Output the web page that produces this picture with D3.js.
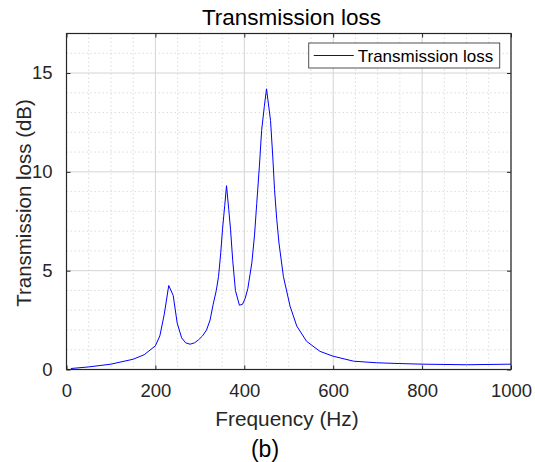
<!DOCTYPE html>
<html lang="en">
<head>
  <meta charset="UTF-8">
  <title>Transmission loss</title>
  <style>
    body { margin: 0; background: #fff; font-family: "Liberation Sans", Arial, sans-serif; }
    .grid-major line { stroke: #d4d4d4; stroke-width: 1; }
    .grid-minor line { stroke: #dcdcdc; stroke-width: 1; stroke-dasharray: 1.5,2.5; }
    .axis path { display: none; }
    .axis line { stroke: #262626; }
    .axis text { font-size: 18.5px; fill: #262626; font-family: "Liberation Sans", Arial, sans-serif; }
  </style>
  <script src="https://d3js.org/d3.v7.min.js"></script>
</head>
<body>
<svg id="chart"></svg>
<script>
  // Data
  const freq = [10, 50, 100, 150, 175, 200, 210, 220, 230, 240, 249, 259, 268, 278, 288, 297, 306, 315, 323, 330, 337, 342, 347, 351, 356, 360, 365, 369, 374, 380, 389, 396, 402, 408, 417, 423, 428, 434, 439, 445, 450, 459, 464, 468, 473, 478, 488, 503, 518, 540, 570, 600, 646, 698, 750, 800, 900, 1000];
  const tl   = [0.05, 0.13, 0.27, 0.52, 0.75, 1.2, 1.7, 2.8, 4.25, 3.75, 2.35, 1.6, 1.35, 1.28, 1.35, 1.5, 1.7, 2.0, 2.5, 3.3, 4.0, 4.7, 5.9, 7.1, 8.3, 9.3, 8.1, 7.1, 5.5, 4.0, 3.25, 3.3, 3.6, 4.1, 5.4, 6.8, 8.4, 10.3, 12.1, 13.3, 14.2, 12.6, 10.8, 9.1, 7.6, 6.4, 4.7, 3.2, 2.2, 1.43, 0.92, 0.67, 0.42, 0.34, 0.3, 0.27, 0.24, 0.27];
  const xTicks = [0, 200, 400, 600, 800, 1000];
  const yTicks = [0, 5, 10, 15];
  const xMinor = d3.range(0, 1001, 50);
  const yMinor = d3.range(0, 17.01, 1);

  const W = 535, H = 462;
  const margin = {top: 33.5, right: 24, bottom: 92.5, left: 66.5};
  const width = W - margin.left - margin.right;
  const height = H - margin.top - margin.bottom;

  const svg = d3.select("#chart").attr("width", W).attr("height", H);
  const g = svg.append("g").attr("transform", `translate(${margin.left},${margin.top})`);

  const x = d3.scaleLinear().domain([0, 1000]).range([0, width]);
  const y = d3.scaleLinear().domain([0, 17]).range([height, 0]);

  // minor grid
  g.append("g").attr("class", "grid-minor")
    .selectAll("line").data(xMinor.filter(d => d % 200 !== 0)).join("line")
    .attr("x1", d => x(d)).attr("x2", d => x(d)).attr("y1", 0).attr("y2", height);
  g.append("g").attr("class", "grid-minor")
    .selectAll("line").data(yMinor.filter(d => d % 5 !== 0)).join("line")
    .attr("y1", d => y(d)).attr("y2", d => y(d)).attr("x1", 0).attr("x2", width);

  // major grid
  g.append("g").attr("class", "grid-major")
    .selectAll("line").data(xTicks).join("line")
    .attr("x1", d => x(d)).attr("x2", d => x(d)).attr("y1", 0).attr("y2", height);
  g.append("g").attr("class", "grid-major")
    .selectAll("line").data(yTicks).join("line")
    .attr("y1", d => y(d)).attr("y2", d => y(d)).attr("x1", 0).attr("x2", width);

  // curve
  const pts = freq.map((f, i) => [f, tl[i]]);
  g.append("path")
    .datum(pts)
    .attr("fill", "none")
    .attr("stroke", "#0000ff")
    .attr("stroke-width", 1)
    .attr("d", d3.line().x(d => x(d[0])).y(d => y(d[1])));

  // axes (ticks inward, MATLAB style)
  g.append("g").attr("class", "axis")
    .attr("transform", `translate(0,${height})`)
    .call(d3.axisBottom(x).tickValues(xTicks).tickFormat(d3.format("d")).tickSize(-4).tickPadding(14.8));
  g.append("g").attr("class", "axis")
    .call(d3.axisTop(x).tickValues(xTicks).tickSize(-4).tickFormat(""));
  g.append("g").attr("class", "axis")
    .call(d3.axisLeft(y).tickValues(yTicks).tickSize(-4).tickPadding(14));
  g.append("g").attr("class", "axis")
    .attr("transform", `translate(${width},0)`)
    .call(d3.axisRight(y).tickValues(yTicks).tickSize(-4).tickFormat(""));

  // box
  g.append("rect")
    .attr("width", width).attr("height", height)
    .attr("fill", "none").attr("stroke", "#262626").attr("stroke-width", 1.2);

  // legend
  const leg = g.append("g").attr("transform", `translate(${x(545)},${9.5})`);
  leg.append("rect").attr("width", 191).attr("height", 25)
    .attr("fill", "#fff").attr("stroke", "#262626").attr("stroke-width", 0.8);
  leg.append("line").attr("x1", 5).attr("x2", 45).attr("y1", 12.5).attr("y2", 12.5)
    .attr("stroke", "#0000ff").attr("stroke-width", 1);
  leg.append("text").attr("x", 49).attr("y", 18.5)
    .attr("font-size", 17).attr("fill", "#000")
    .text("Transmission loss");

  // titles
  svg.append("text").attr("x", 291.5).attr("y", 25)
    .attr("text-anchor", "middle").attr("font-size", 22.5).attr("fill", "#000")
    .text("Transmission loss");
  svg.append("text").attr("x", 287).attr("y", 425.5)
    .attr("text-anchor", "middle").attr("font-size", 20.8).attr("fill", "#262626")
    .text("Frequency (Hz)");
  svg.append("text").attr("transform", `translate(31,203) rotate(-90)`)
    .attr("text-anchor", "middle").attr("font-size", 20.5).attr("fill", "#262626")
    .text("Transmission loss (dB)");
  svg.append("text").attr("x", 265).attr("y", 456.5)
    .attr("text-anchor", "middle").attr("font-size", 23).attr("fill", "#000")
    .text("(b)");
</script>
</body>
</html>
